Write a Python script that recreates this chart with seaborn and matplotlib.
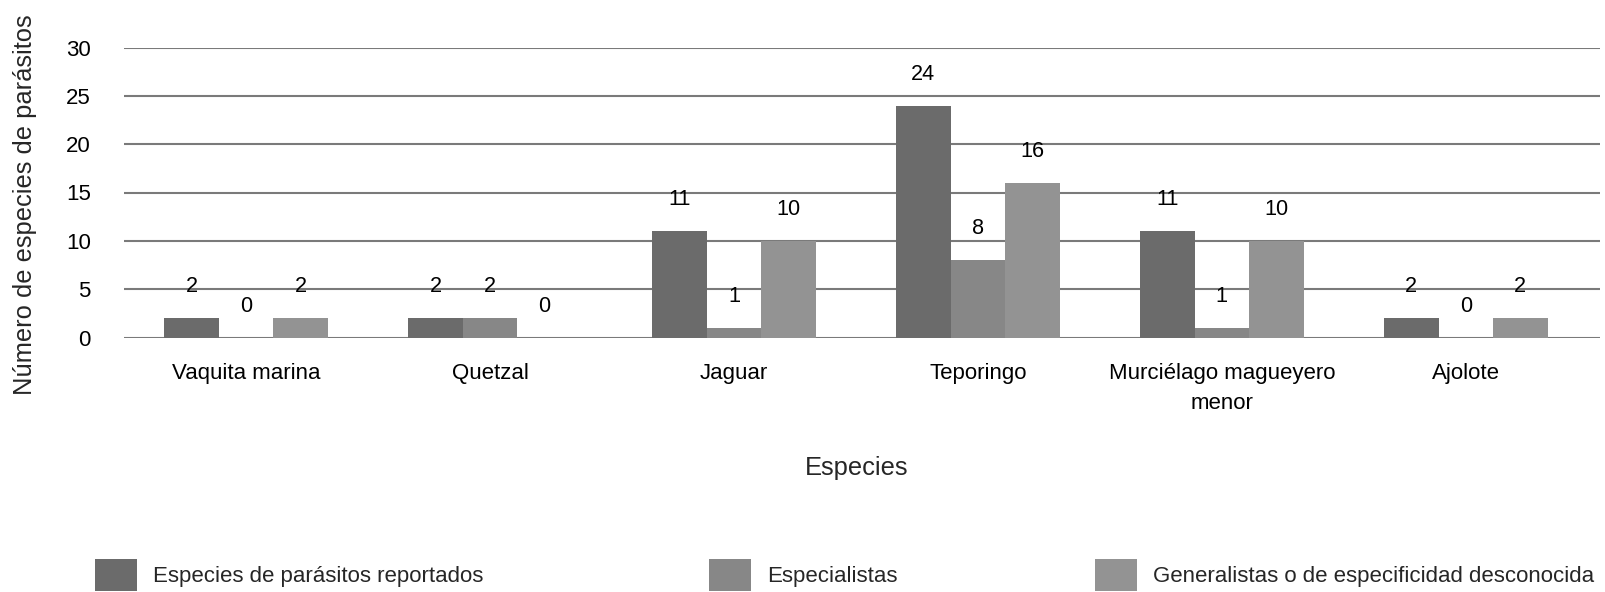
import matplotlib
matplotlib.use("Agg")
import matplotlib.pyplot as plt
import seaborn as sns
import pandas as pd

# --- data -------------------------------------------------------------
especies = ["Vaquita marina", "Quetzal", "Jaguar", "Teporingo",
            "Murciélago magueyero\nmenor", "Ajolote"]
series = ["Especies de parásitos reportados", "Especialistas",
          "Generalistas o de especificidad desconocida"]
reportados = [2, 2, 11, 24, 11, 2]
especialistas = [0, 2, 1, 8, 1, 0]
generalistas = [2, 0, 10, 16, 10, 2]
y_ticks = [0, 5, 10, 15, 20, 25, 30]

colores = ["#6b6b6b", "#878787", "#939393"]

df = pd.DataFrame({
    "Especie": especies * 3,
    "Serie": [s for s in series for _ in especies],
    "Valor": reportados + especialistas + generalistas,
})

# --- style --------------------------------------------------------------
sns.set_theme(style="white")
plt.rcParams["font.family"] = ["Liberation Sans", "DejaVu Sans"]

FS_TICK = 16
FS_TITLE = 18.4
FS_VAL = 15.6

W, H = 1605, 592
fig = plt.figure(figsize=(W / 100, H / 100), dpi=100)
ax = fig.add_axes([124 / W, 1 - 337.5 / H, (1600 - 124) / W, (337.5 - 47.5) / H])

sns.barplot(data=df, x="Especie", y="Valor", hue="Serie", palette=colores,
            width=0.67, saturation=1, errorbar=None, linewidth=0, ax=ax)

handles, labels = ax.get_legend_handles_labels()
ax.get_legend().remove()

ax.set_ylim(0, 30)
ax.set_xlim(-0.5, 5.55)
ax.set_yticks(y_ticks)
ax.set_axisbelow(True)
ax.yaxis.grid(True, color="#7a7a7a", linewidth=1.5)
ax.xaxis.grid(False)
for s in ax.spines.values():
    s.set_visible(False)
ax.tick_params(axis="both", length=0, labelsize=FS_TICK, colors="black")
ax.tick_params(axis="x", pad=18.5)
ax.tick_params(axis="y", pad=24)
for t in ax.get_xticklabels():
    t.set_linespacing(1.55)

ax.set_xlabel("Especies", fontsize=FS_TITLE)
ax.set_ylabel("Número de especies de parásitos", fontsize=FS_TITLE)
ax.yaxis.set_label_coords(25 / W, 1 - 205 / H, transform=fig.transFigure)
ax.xaxis.set_label_coords(857 / W, 1 - 468 / H, transform=fig.transFigure)
ax.xaxis.label.set_va("center")
ax.yaxis.label.set_va("center")

for cont in ax.containers:
    ax.bar_label(cont, fmt="%g", padding=15, fontsize=FS_VAL, color="black")

# --- legend: three entries spread along the bottom --------------------
x_pos = [95, 709, 1095]
for h, l, x in zip(handles, labels, x_pos):
    fig.legend([h], [l], loc="center left",
               bbox_to_anchor=(x / W, 1 - 575 / H),
               bbox_transform=fig.transFigure,
               frameon=False, fontsize=FS_TICK, borderpad=0,
               borderaxespad=0, handlelength=1.9, handleheight=1.9,
               handletextpad=0.72)

fig.savefig("out.png", dpi=100)
